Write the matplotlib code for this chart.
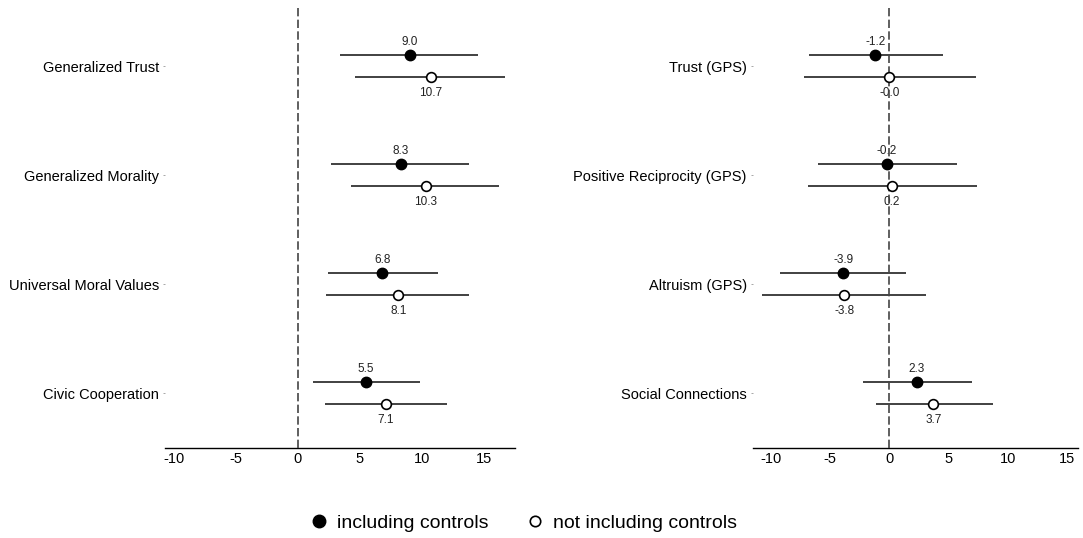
import numpy as np
import matplotlib
matplotlib.use('Agg')
import matplotlib.pyplot as plt
from matplotlib.lines import Line2D

plt.rcParams['font.family'] = ['Liberation Sans', 'DejaVu Sans']

# left panel
left_labels = ['Generalized Trust', 'Generalized Morality', 'Universal Moral Values', 'Civic Cooperation']
left_ctrl = [9.0, 8.3, 6.8, 5.5]
left_ctrl_lo = [3.4, 2.7, 2.4, 1.2]
left_ctrl_hi = [14.5, 13.8, 11.3, 9.8]
left_noctrl = [10.7, 10.3, 8.1, 7.1]
left_noctrl_lo = [4.6, 4.3, 2.3, 2.2]
left_noctrl_hi = [16.7, 16.2, 13.8, 12.0]

# right panel
right_labels = ['Trust (GPS)', 'Positive Reciprocity (GPS)', 'Altruism (GPS)', 'Social Connections']
right_ctrl = [-1.2, -0.2, -3.9, 2.3]
right_ctrl_lo = [-6.8, -6.0, -9.2, -2.2]
right_ctrl_hi = [4.5, 5.7, 1.4, 7.0]
right_noctrl = [-0.0, 0.2, -3.8, 3.7]
right_noctrl_lo = [-7.2, -6.9, -10.7, -1.1]
right_noctrl_hi = [7.3, 7.4, 3.1, 8.7]

ticks = [-10, -5, 0, 5, 10, 15]


def panel(ax, labels, c, c_lo, c_hi, n, n_lo, n_hi, xlim):
    pos = np.arange(len(labels), 0, -1)
    c = np.array(c)
    n = np.array(n)
    ax.axvline(0, color='#444444', lw=1.2, linestyle=(0, (5, 2)), zorder=3.5)
    ax.hlines(pos + 0.1, c_lo, c_hi, color='#333333', lw=1.3, zorder=2)
    ax.hlines(pos - 0.1, n_lo, n_hi, color='#333333', lw=1.3, zorder=2)
    ax.plot(c, pos + 0.1, 'o', color='black', ms=7.5, zorder=4)
    ax.plot(n, pos - 0.1, 'o', mfc='white', mec='black', mew=1.2, ms=7, zorder=4)
    for x, y in zip(c, pos):
        ax.annotate(f'{x:.1f}', (x, y + 0.1), xytext=(0, 9.5), textcoords='offset points',
                    ha='center', va='center', fontsize=8.5, color='#222222', zorder=3)
    for x, y in zip(n, pos):
        ax.annotate(f'{x:.1f}', (x, y - 0.1), xytext=(0, -11.5), textcoords='offset points',
                    ha='center', va='center', fontsize=8.5, color='#222222', zorder=3)
    ax.set_xlim(xlim)
    ax.set_ylim(0.5, 4.534)
    ax.set_xticks(ticks)
    ax.set_xticklabels([str(t) for t in ticks])
    ax.set_yticks(pos)
    ax.set_yticklabels(labels)
    for s in ['top', 'right', 'left']:
        ax.spines[s].set_visible(False)
    ax.spines['bottom'].set_linewidth(1.0)
    ax.tick_params(axis='x', length=0, pad=3, labelsize=10.5)
    ax.tick_params(axis='y', length=1.5, width=0.6, color='#999999', pad=3, labelsize=10.5)


fig = plt.figure(figsize=(10.83, 5.38), dpi=100)
ax1 = fig.add_axes([0.1524, 0.168, 0.3232, 0.817])
ax2 = fig.add_axes([0.6953, 0.168, 0.3001, 0.817])

panel(ax1, left_labels, left_ctrl, left_ctrl_lo, left_ctrl_hi,
      left_noctrl, left_noctrl_lo, left_noctrl_hi, (-10.7, 17.5))
panel(ax2, right_labels, right_ctrl, right_ctrl_lo, right_ctrl_hi,
      right_noctrl, right_noctrl_lo, right_noctrl_hi, (-11.5, 15.9))

handles = [Line2D([], [], marker='o', ls='', color='black', ms=9),
           Line2D([], [], marker='o', ls='', mfc='white', mec='black', mew=1.2, ms=7.5)]
fig.legend(handles, ['including controls', 'not including controls'], loc='center',
           bbox_to_anchor=(0.484, 0.027), ncol=2, frameon=False, fontsize=14,
           handlelength=0.8, handletextpad=0.5, columnspacing=2.0)

plt.savefig('out.png', dpi=100)
